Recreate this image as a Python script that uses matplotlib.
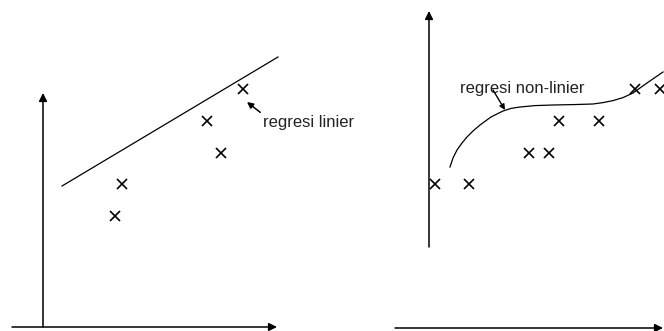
import matplotlib
matplotlib.use("Agg")
import matplotlib.pyplot as plt

plt.rcParams['font.family'] = ['Liberation Sans', 'DejaVu Sans']

# ---- Left panel: linear regression ----
lin_x = [3.95, 3.6, 8.2, 8.9, 10.0]
lin_y = [7.15, 5.55, 10.3, 8.7, 11.9]
lin_line_x = [0.95, 11.75]
lin_line_y = [7.05, 13.5]
lin_label = "regresi linier"

# ---- Right panel: non-linear regression ----
nl_x = [0.3, 2.0, 5.0, 6.0, 6.5, 8.5, 10.3, 11.55]
nl_y = [7.2, 7.2, 8.75, 8.75, 10.35, 10.35, 11.95, 11.95]
curve_x = [1.05, 1.2, 1.4, 1.65, 1.9, 2.2, 2.55, 3.1, 3.7, 4.1, 4.55, 5.3, 6.2,
           7.2, 8.2, 8.7, 9.2, 9.7, 10.2, 10.9, 11.7]
curve_y = [8.05, 8.5, 8.9, 9.25, 9.55, 9.85, 10.15, 10.55, 10.85, 10.98, 11.05,
           11.12, 11.15, 11.17, 11.2, 11.27, 11.37, 11.52, 11.75, 12.25, 12.8]
nl_label = "regresi non-linier"

W, H = 664, 331
fig = plt.figure(figsize=(W / 100, H / 100), dpi=100)

# each panel: 1 data unit = 20 px
def make_ax(px0, px1, ox, oy):
    ax = fig.add_axes([px0 / W, 0, (px1 - px0) / W, 1])
    ax.set_xlim((px0 - ox) / 20, (px1 - ox) / 20)
    ax.set_ylim((oy - H) / 20, oy / 20)
    ax.axis('off')
    return ax

arrow_kw = dict(arrowstyle='-|>', color='black', lw=1.1, mutation_scale=12,
                shrinkA=0, shrinkB=0)

# left
axL = make_ax(0, 332, 43, 327)
axL.annotate('', xy=(0, 11.7), xytext=(0, 0), arrowprops=arrow_kw)
axL.annotate('', xy=(11.7, 0), xytext=(-1.55, 0), arrowprops=arrow_kw)
axL.plot(lin_line_x, lin_line_y, color='black', lw=0.9)
axL.plot(lin_x, lin_y, 'x', color='black', ms=6.5, mew=1.2)
axL.annotate(lin_label, xy=(10.2, 11.25), xytext=(11.0, 10.25),
             fontsize=12, color='#222222', va='center', ha='left',
             arrowprops=dict(arrowstyle='-|>', color='black', lw=1.1,
                             mutation_scale=9, shrinkA=0, shrinkB=0,
                             relpos=(0, 1)))

# right
axR = make_ax(332, 664, 429, 328)
axR.annotate('', xy=(0, 15.85), xytext=(0, 4.05), arrowprops=arrow_kw)
axR.annotate('', xy=(11.7, 0), xytext=(-1.7, 0), arrowprops=arrow_kw)
axR.plot(curve_x, curve_y, color='black', lw=0.9)
axR.plot(nl_x, nl_y, 'x', color='black', ms=6.5, mew=1.2, clip_on=True)
axR.text(1.55, 11.95, nl_label, fontsize=12, color='#222222', va='center', ha='left')
axR.annotate('', xy=(3.8, 10.9), xytext=(3.2, 11.9),
             arrowprops=dict(arrowstyle='-|>', color='black', lw=1.0,
                             mutation_scale=8, shrinkA=0, shrinkB=0))

fig.savefig('out.png', dpi=100, facecolor='white')
